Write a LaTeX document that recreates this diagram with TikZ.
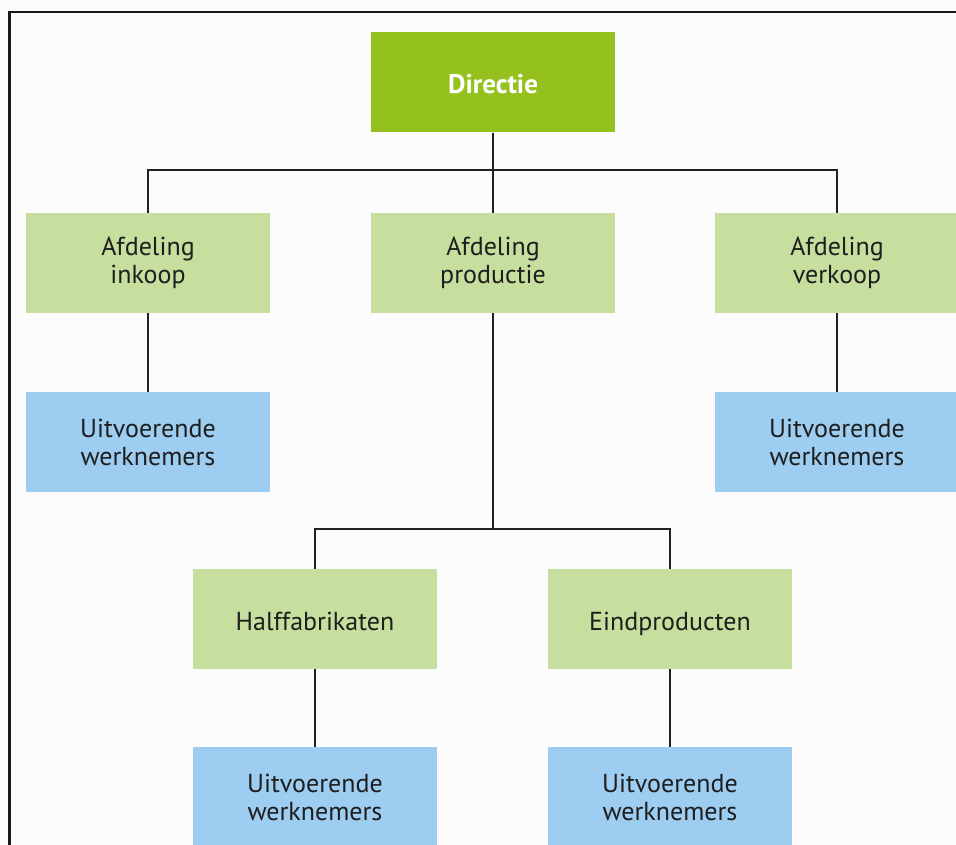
\documentclass[tikz,border=0pt]{standalone}
\usepackage{fontspec}
\setmainfont{PT Sans}
\usetikzlibrary{positioning}
\definecolor{topgreen}{HTML}{95C11F}
\definecolor{deptgreen}{HTML}{C6DF9E}
\definecolor{staffblue}{HTML}{9DCDF0}
\definecolor{inktext}{HTML}{1E1E1E}
\definecolor{linegray}{HTML}{222222}
\tikzset{
  orgbox/.style={rectangle, minimum width=244pt, minimum height=100pt,
    inner sep=0pt, align=center, text=inktext,
    font=\fontsize{26}{28}\selectfont},
  headbox/.style={orgbox, fill=topgreen, text=white, font=\fontsize{27}{28}\selectfont\bfseries},
  deptbox/.style={orgbox, fill=deptgreen},
  staffbox/.style={orgbox, fill=staffblue},
  oneline/.style={text height=24pt, text depth=2pt},
  conn/.style={draw=linegray, line width=1.6pt},
  frameline/.style={draw=black!90, line width=2.2pt}
}
\begin{document}
\begin{tikzpicture}[x=1pt,y=-1pt]
  \useasboundingbox (0,0) rectangle (956,845);
  \fill[white!99!black] (0,0) rectangle (956,845);

  % outer frame (left and top edges)
  \draw[frameline] (9.5,846) -- (9.5,12) -- (957,12);

  % top level
  \node[headbox, oneline] (dir) at (493,82.5) {Directie};

  % departments
  \node[deptbox] (ink)  at (148,263) {Afdeling\\inkoop};
  \node[deptbox] (prod) at (493,263) {Afdeling\\productie};
  \node[deptbox] (verk) at (837,263) {Afdeling\\verkoop};

  % staff under purchasing and sales
  \node[staffbox] (uitA) at (148,442) {Uitvoerende\\werknemers};
  \node[staffbox] (uitB) at (837,442) {Uitvoerende\\werknemers};

  % production sub-units
  \node[deptbox, oneline] (half) at (315,619) {Halffabrikaten};
  \node[deptbox, oneline] (eind) at (670,619) {Eindproducten};

  % staff under production sub-units
  \node[staffbox] (uitC) at (315,797) {Uitvoerende\\werknemers};
  \node[staffbox] (uitD) at (670,797) {Uitvoerende\\werknemers};

  % connectors
  \draw[conn] (dir.south) -- (prod.north);
  \draw[conn] (dir.south) -- ++(0,37.5) -| (ink.north);
  \draw[conn] (dir.south) -- ++(0,37.5) -| (verk.north);
  \draw[conn] (ink.south) -- (uitA.north);
  \draw[conn] (verk.south) -- (uitB.north);
  \draw[conn] (prod.south) -- ++(0,216) -| (half.north);
  \draw[conn] (prod.south) -- ++(0,216) -| (eind.north);
  \draw[conn] (half.south) -- (uitC.north);
  \draw[conn] (eind.south) -- (uitD.north);
\end{tikzpicture}
\end{document}
